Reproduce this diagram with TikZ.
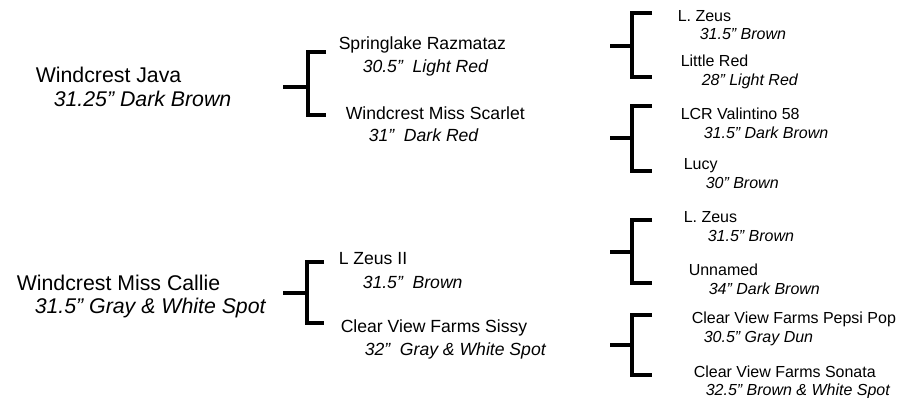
\documentclass[tikz,border=0pt]{standalone}
\usepackage{fontspec}
\setmainfont{Liberation Sans}
\begin{document}
\begin{tikzpicture}[x=1pt, y=-1pt, line width=3.5pt,
    gen1/.style={anchor=base west, inner sep=0pt, font=\fontsize{21.3}{25}\selectfont},
    gen2/.style={anchor=base west, inner sep=0pt, font=\fontsize{17.6}{21}\selectfont},
    gen3/.style={anchor=base west, inner sep=0pt, font=\fontsize{16}{19}\selectfont},
    info/.style={execute at begin node=\itshape}]
    \useasboundingbox (0,0) rectangle (901,398);

    % first generation
    \node[gen1] (java) at (34, 83) {Windcrest Java};
    \node[gen1, info] (javaInfo) at (52, 107) {31.25” Dark Brown};

    \node[gen1] (callie) at (15, 290) {Windcrest Miss Callie};
    \node[gen1, info] (callieInfo) at (33, 313) {31.5” Gray \& White Spot};

    % second generation
    \node[gen2] (razmataz) at (337, 50) {Springlake Razmataz};
    \node[gen2, info] (razmatazInfo) at (361, 73) {30.5”~ Light Red};

    \node[gen2] (scarlet) at (344, 120) {Windcrest Miss Scarlet};
    \node[gen2, info] (scarletInfo) at (367, 142) {31”~ Dark Red};

    \node[gen2] (zeusII) at (337, 264) {L Zeus II};
    \node[gen2, info] (zeusIIInfo) at (361, 288) {31.5”~ Brown};

    \node[gen2] (sissy) at (339, 332) {Clear View Farms Sissy};
    \node[gen2, info] (sissyInfo) at (363, 355) {32”~ Gray \& White Spot};

    % third generation
    \node[gen3] (zeusA) at (676, 22) {L. Zeus};
    \node[gen3, info] (zeusAInfo) at (698, 40) {31.5” Brown};

    \node[gen3] (littlered) at (679, 67) {Little Red};
    \node[gen3, info] (littleredInfo) at (700, 86) {28” Light Red};

    \node[gen3] (valintino) at (679, 120) {LCR Valintino 58};
    \node[gen3, info] (valintinoInfo) at (702, 139) {31.5” Dark Brown};

    \node[gen3] (lucy) at (682, 169) {Lucy};
    \node[gen3, info] (lucyInfo) at (704, 188) {30” Brown};

    \node[gen3] (zeusB) at (682, 222) {L. Zeus};
    \node[gen3, info] (zeusBInfo) at (706, 241) {31.5” Brown};

    \node[gen3] (unnamed) at (687, 275) {Unnamed};
    \node[gen3, info] (unnamedInfo) at (707, 294) {34” Dark Brown};

    \node[gen3] (pepsipop) at (690, 323) {Clear View Farms Pepsi Pop};
    \node[gen3, info] (pepsipopInfo) at (702, 342) {30.5” Gray Dun};

    \node[gen3] (sonata) at (692, 377) {Clear View Farms Sonata};
    \node[gen3, info] (sonataInfo) at (704, 395) {32.5” Brown \& White Spot};

    % brackets
    \coordinate (javaS) at (283, 87);
    \coordinate (javaT) at (308, 52);
    \coordinate (javaB) at (308, 115);
    \coordinate (javaTe) at (326, 52);
    \coordinate (javaBe) at (326, 115);

    \coordinate (callieS) at (283, 293);
    \coordinate (callieT) at (307, 262);
    \coordinate (callieB) at (307, 323);
    \coordinate (callieTe) at (324, 262);
    \coordinate (callieBe) at (324, 323);

    \coordinate (razS) at (610, 46);
    \coordinate (razT) at (632, 13);
    \coordinate (razB) at (632, 77);
    \coordinate (razTe) at (652, 13);
    \coordinate (razBe) at (652, 77);

    \coordinate (scarS) at (610, 138);
    \coordinate (scarT) at (632, 106);
    \coordinate (scarB) at (632, 171);
    \coordinate (scarTe) at (652, 106);
    \coordinate (scarBe) at (652, 171);

    \coordinate (zeusS) at (610, 252);
    \coordinate (zeusT) at (632, 220);
    \coordinate (zeusB) at (632, 283);
    \coordinate (zeusTe) at (652, 220);
    \coordinate (zeusBe) at (652, 283);

    \coordinate (sissyS) at (610, 345);
    \coordinate (sissyT) at (632, 315);
    \coordinate (sissyB) at (632, 375);
    \coordinate (sissyTe) at (652, 315);
    \coordinate (sissyBe) at (652, 375);

    \foreach \b in {java, callie, raz, scar, zeus, sissy} {
        \draw (\b Te)
        -- (\b T)
        -- (\b B)
        -- (\b Be);
        \draw (\b S)
        -- (\b S -| \b T);
    }
\end{tikzpicture}
\end{document}
